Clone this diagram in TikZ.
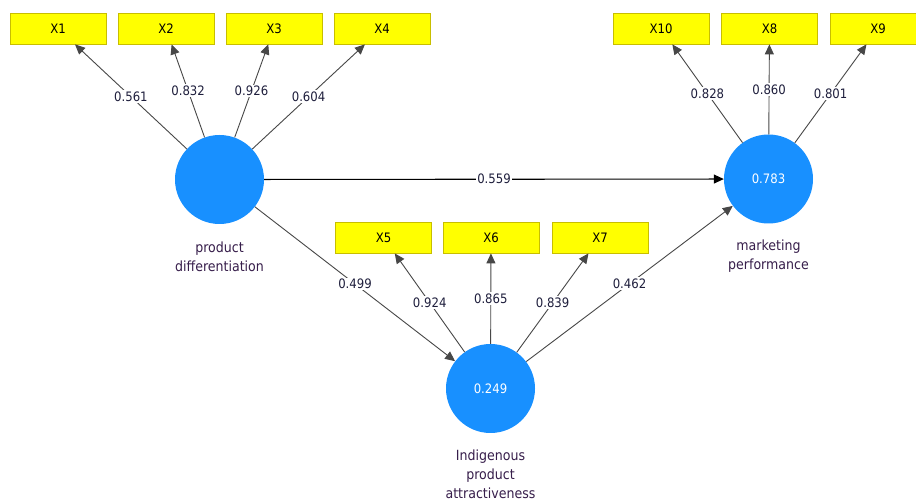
\documentclass[tikz,border=0pt]{standalone}
\usepackage{fontspec}
\setmainfont{DejaVu Sans Condensed}
\usetikzlibrary{arrows.meta}
\definecolor{boxyellow}{RGB}{255,255,0}
\definecolor{boxedge}{RGB}{200,190,0}
\definecolor{lvblue}{RGB}{24,144,255}
\definecolor{coef}{RGB}{30,30,60}
\definecolor{lvtext}{RGB}{55,30,75}
\begin{document}
\begin{tikzpicture}[x=1pt,y=-1pt,
 indicator/.style={draw=boxedge, fill=boxyellow, minimum width=96pt, minimum height=31pt, inner sep=0pt, font=\fontsize{13}{15}\selectfont, line width=0.8pt},
 latent/.style={circle, fill=lvblue, minimum size=89pt, inner sep=0pt, text=white, font=\fontsize{13}{15}\selectfont},
 lvlabel/.style={align=center, text=lvtext, inner sep=0pt, font=\fontsize{14}{19}\selectfont},
 coefl/.style={fill=white, inner sep=1.5pt, text=coef, font=\fontsize{13}{15}\selectfont},
 load/.style={draw=black!72, line width=0.9pt, -{Triangle[length=10pt,width=9pt]}},
 struct/.style={draw=black, line width=1.1pt, -{Triangle[length=10pt,width=9pt]}}]
\useasboundingbox (0,0) rectangle (916,502);
\clip (0,0) rectangle (916,502);
\fill[white] (0,0) rectangle (916,502);
% indicators
\node[indicator] (x1) at (58,28.5) {X1};
\node[indicator] (x2) at (166,28.5) {X2};
\node[indicator] (x3) at (274,28.5) {X3};
\node[indicator] (x4) at (382,28.5) {X4};
\node[indicator] (x10) at (661,28.5) {X10};
\node[indicator] (x8) at (769.5,28.5) {X8};
\node[indicator] (x9) at (878,28.5) {X9};
\node[indicator] (x5) at (383.5,237.5) {X5};
\node[indicator] (x6) at (491,237.5) {X6};
\node[indicator] (x7) at (600,237.5) {X7};
% latent variables
\node[latent] (pd) at (219.5,179.5) {};
\node[latent] (mp) at (768.5,179) {0.783};
\node[latent] (ipa) at (490.5,388.5) {0.249};
\node[lvlabel] (pdl) at (219.5,256.5) {product\\differentiation};
\node[lvlabel] (mpl) at (768.5,256.5) {marketing\\performance};
\node[lvlabel] (ipal) at (490.5,474.5) {Indigenous\\product\\attractiveness};
% loadings
\draw[load] (pd) -- node[coefl,midway] {0.561} (x1);
\draw[load] (pd) -- node[coefl,midway] {0.832} (x2);
\draw[load] (pd) -- node[coefl,midway] {0.926} (x3);
\draw[load] (pd) -- node[coefl,midway] {0.604} (x4);
\draw[load] (mp) -- node[coefl,midway] {0.828} (x10);
\draw[load] (mp) -- node[coefl,midway] {0.860} (x8);
\draw[load] (mp) -- node[coefl,midway] {0.801} (x9);
\draw[load] (ipa) -- node[coefl,midway] {0.924} (x5);
\draw[load] (ipa) -- node[coefl,midway] {0.865} (x6);
\draw[load] (ipa) -- node[coefl,midway] {0.839} (x7);
% structural paths
\draw[struct] (pd) -- node[coefl,midway] {0.559} (mp);
\draw[load] (pd) -- node[coefl,midway] {0.499} (ipa);
\draw[load] (ipa) -- node[coefl,midway] {0.462} (mp);
\end{tikzpicture}
\end{document}
